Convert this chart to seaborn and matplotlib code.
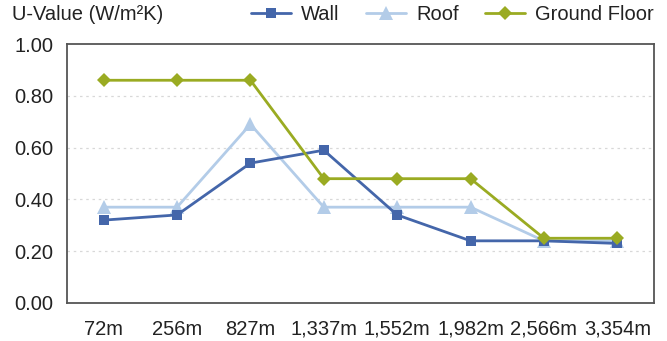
import matplotlib
matplotlib.use("Agg")
import matplotlib.pyplot as plt
import seaborn as sns
import pandas as pd

altitudes = ["72m", "256m", "827m", "1,337m", "1,552m", "1,982m", "2,566m", "3,354m"]
wall = [0.32, 0.34, 0.54, 0.59, 0.34, 0.24, 0.24, 0.23]
roof = [0.37, 0.37, 0.69, 0.37, 0.37, 0.37, 0.24, 0.24]
ground_floor = [0.86, 0.86, 0.86, 0.48, 0.48, 0.48, 0.25, 0.25]

series = {"Wall": wall, "Roof": roof, "Ground Floor": ground_floor}
df = pd.DataFrame(
    [(a, name, v) for name, vals in series.items() for a, v in zip(altitudes, vals)],
    columns=["altitude", "element", "u"],
)
df["pos"] = df["altitude"].map({a: i for i, a in enumerate(altitudes)})

sns.set_style("white")
plt.rcParams["font.family"] = ["Liberation Sans", "DejaVu Sans"]
FS = 14.5

fig = plt.figure(figsize=(6.67, 3.41), dpi=100)
ax = fig.add_axes([67 / 667, 1 - 303 / 341, 587 / 667, 259 / 341])

palette = {"Wall": "#4466aa", "Roof": "#b3cce8", "Ground Floor": "#9aab22"}
markers = {"Wall": "s", "Roof": "^", "Ground Floor": "D"}
sizes = {"Wall": 7, "Roof": 9.5, "Ground Floor": 7}
order = ["Roof", "Wall", "Ground Floor"]
for name in order:
    sub = df[df["element"] == name]
    sns.lineplot(
        data=sub, x="pos", y="u", ax=ax, color=palette[name], marker=markers[name],
        markersize=sizes[name], markeredgewidth=0, linewidth=2.0, label=name,
        zorder=3 if name != "Roof" else 2,
    )

ax.set_xlim(-0.5, len(altitudes) - 0.5)
ax.set_ylim(0, 1.0)
ax.set_xticks(range(len(altitudes)))
ax.set_xticklabels(altitudes)
ax.set_yticks([0, 0.2, 0.4, 0.6, 0.8, 1.0])
ax.set_yticklabels([f"{v:.2f}" for v in [0, 0.2, 0.4, 0.6, 0.8, 1.0]])
ax.tick_params(axis="both", labelsize=FS, colors="#222222", length=0)
ax.tick_params(axis="x", pad=12)
ax.tick_params(axis="y", pad=10)
ax.set_xlabel("")
ax.set_ylabel("")
for y in [0.2, 0.4, 0.6, 0.8]:
    ax.axhline(y, color="#d8d8d8", linestyle=(0, (2, 3)), linewidth=0.9, zorder=1)
for s in ax.spines.values():
    s.set_visible(True)
    s.set_color("#555555")
    s.set_linewidth(1.3)

handles, labels = ax.get_legend_handles_labels()
hmap = dict(zip(labels, handles))
leg = ax.legend(
    [hmap[n] for n in ["Wall", "Roof", "Ground Floor"]], ["Wall", "Roof", "Ground Floor"],
    loc="center right", bbox_to_anchor=(1.0, 1 + 29 / 259), ncol=3, frameon=False,
    fontsize=FS, handlelength=2.0, columnspacing=1.3, handletextpad=0.5,
    borderaxespad=0.0, borderpad=0.0,
)
for t in leg.get_texts():
    t.set_color("#222222")
fig.text(12 / 667, 1 - 15 / 341, "U-Value (W/m²K)", fontsize=FS, color="#222222", va="center")

fig.savefig("out.png", dpi=100)
